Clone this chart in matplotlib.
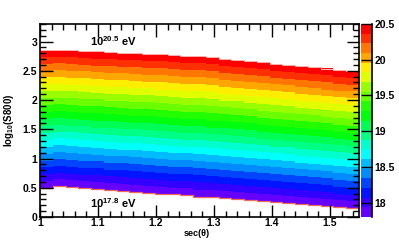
import colorsys
import numpy as np
import matplotlib
matplotlib.use("Agg")
import matplotlib.pyplot as plt
from matplotlib.colors import ListedColormap, BoundaryNorm

plt.rcParams['font.family'] = ['Liberation Sans', 'DejaVu Sans']
plt.rcParams['mathtext.fontset'] = 'custom'
plt.rcParams['mathtext.rm'] = 'Liberation Sans'
plt.rcParams['mathtext.bf'] = 'Liberation Sans:bold'
plt.rcParams['mathtext.it'] = 'Liberation Sans:italic'

# ---- data ----
sec_min, sec_max, n_sec_bins = 1.0, 1.55, 25
# log10(S800) at the 10^20.5 eV (upper) and 10^17.8 eV (lower) boundary, per sec bin
lgS_upper = [2.86, 2.86, 2.85, 2.84, 2.83, 2.82, 2.81, 2.80, 2.79, 2.78,
             2.77, 2.755, 2.745, 2.73, 2.71, 2.69, 2.665, 2.645, 2.62, 2.60,
             2.58, 2.56, 2.535, 2.515, 2.50]
lgS_lower = [0.49, 0.53, 0.51, 0.49, 0.475, 0.46, 0.445, 0.43, 0.415, 0.40,
             0.385, 0.37, 0.35, 0.34, 0.325, 0.31, 0.295, 0.28, 0.26, 0.245,
             0.23, 0.21, 0.19, 0.17, 0.15]
lgE_min, lgE_max = 17.8, 20.5
n_contours = 20
x_ticks = [1.0, 1.1, 1.2, 1.3, 1.4, 1.5]
x_ticklabels = ['1', '1.1', '1.2', '1.3', '1.4', '1.5']
y_ticks = [0, 0.5, 1, 1.5, 2, 2.5, 3]
y_ticklabels = ['0', '0.5', '1', '1.5', '2', '2.5', '3']
z_ticks = [18, 18.5, 19, 19.5, 20, 20.5]
z_ticklabels = ['18', '18.5', '19', '19.5', '20', '20.5']

# ---- ROOT-like rainbow palette (50 colours, 20 contours) ----
pal50 = []
for i in range(50):
    hue = 280 - (i + 1) * (280 / 50)
    pal50.append(colorsys.hls_to_rgb(hue / 360.0, 0.5, 1.0))
cols = [pal50[int((i + 0.99) * 50 / n_contours)] for i in range(n_contours)]
cmap = ListedColormap(cols)
cmap.set_bad((1, 1, 1, 0))
levels = np.linspace(lgE_min, lgE_max, n_contours + 1)
norm = BoundaryNorm(levels, n_contours)

# ---- build histogram ----
xedges = np.linspace(sec_min, sec_max, n_sec_bins + 1)
yedges = np.linspace(0, 3.3, 331)
yc = 0.5 * (yedges[:-1] + yedges[1:])
up = np.array(lgS_upper)
lo = np.array(lgS_lower)
Z = np.full((len(yc), n_sec_bins), np.nan)
for j in range(n_sec_bins):
    z = lgE_min + (yc - lo[j]) / (up[j] - lo[j]) * (lgE_max - lgE_min)
    ok = (yc >= lo[j]) & (yc <= up[j])
    Z[ok, j] = np.clip(z[ok], lgE_min + 1e-6, lgE_max - 1e-6)
Z = np.ma.masked_invalid(Z)

fig = plt.figure(figsize=(3.99, 2.42), dpi=100)
ax = fig.add_axes([40 / 399, 25 / 242, 319 / 399, 193 / 242])
ax.pcolormesh(xedges, yedges, Z, cmap=cmap, norm=norm, shading='flat',
              antialiased=False, linewidth=0)

# boundary edges
ax.stairs(lo, xedges, baseline=None, color='#f06a5a', lw=0.9)
ax.stairs(up, xedges, baseline=None, color='#ffb4b4', lw=0.7)

ax.set_xlim(sec_min, sec_max)
ax.set_ylim(0, 3.3)
ax.set_xticks(x_ticks)
ax.set_xticklabels(x_ticklabels)
ax.set_yticks(y_ticks)
ax.set_yticklabels(y_ticklabels)
ax.set_xticks(np.arange(1.0, 1.551, 0.02), minor=True)
ax.set_yticks(np.arange(0, 3.31, 0.1), minor=True)
ax.tick_params(which='both', direction='in', top=True, right=True,
               labelsize=7.5, width=1.0)
ax.tick_params(axis='x', pad=1)
ax.tick_params(axis='y', pad=2)
ax.tick_params(which='major', length=9)
ax.tick_params(which='minor', length=4.5)
for lab in ax.get_xticklabels() + ax.get_yticklabels():
    lab.set_fontweight('bold')
for sp in ax.spines.values():
    sp.set_linewidth(1.2)

fig.text(197 / 399, 1 - 233 / 242, 'sec(θ)', fontsize=6.5, fontweight='bold',
         ha='center', va='center')
ax.set_ylabel(r'log$_{\mathbf{10}}$(S800)', fontsize=7, fontweight='bold',
              labelpad=5)

ax.text(1.127, 3.0, r'$\mathbf{10^{20.5}}$ eV', fontsize=8, fontweight='bold',
        ha='center', va='center')
ax.text(1.127, 0.23, r'$\mathbf{10^{17.8}}$ eV', fontsize=8, fontweight='bold',
        ha='center', va='center')

# colour bar
cax = fig.add_axes([361 / 399, 25 / 242, 10.5 / 399, 193 / 242])
cb_y = np.linspace(lgE_min, lgE_max, 500)
cax.pcolormesh([0, 1], np.linspace(lgE_min, lgE_max, 501),
               cb_y.reshape(-1, 1), cmap=cmap, norm=norm, shading='flat',
               antialiased=False)
cax.set_xlim(0, 1)
cax.set_ylim(lgE_min, lgE_max)
cax.set_xticks([])
cax.yaxis.tick_right()
cax.set_yticks(z_ticks)
cax.set_yticklabels(z_ticklabels)
cax.tick_params(axis='y', direction='in', length=8, width=1.0,
                labelsize=7.5, pad=2)
for lab in cax.get_yticklabels():
    lab.set_fontweight('bold')
for name, sp in cax.spines.items():
    sp.set_visible(name == 'right')
cax.spines['right'].set_linewidth(1.2)

fig.savefig('out.png', dpi=100)
